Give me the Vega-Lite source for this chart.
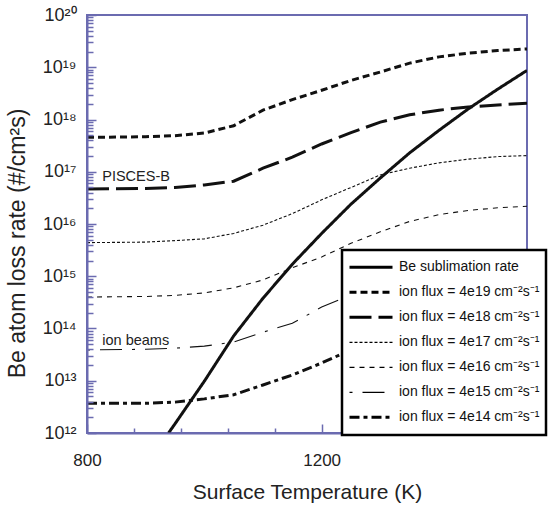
{
  "$schema": "https://vega.github.io/schema/vega-lite/v6.json",
  "width": 440,
  "height": 418,
  "autosize": {"type": "none"},
  "padding": {"left": 87, "top": 15, "right": 24, "bottom": 75},
  "background": "white",
  "config": {
    "view": {"stroke": "#6b6bb0", "strokeWidth": 2},
    "axis": {
      "domainColor": "#6b6bb0",
      "domainWidth": 2,
      "tickColor": "#6b6bb0",
      "tickWidth": 1.5,
      "grid": false,
      "labelFont": "Liberation Sans",
      "titleFont": "Liberation Sans",
      "labelColor": "#222222",
      "titleColor": "#222222",
      "titleFontWeight": "normal"
    },
    "legend": {
      "orient": "none",
      "legendX": 255,
      "legendY": 235,
      "padding": 6,
      "fillColor": "white",
      "strokeColor": "black",
      "strokeWidth": 2.5,
      "labelFont": "Liberation Sans",
      "labelFontSize": 14,
      "labelColor": "#111111",
      "symbolType": "stroke",
      "symbolSize": 1850,
      "symbolStrokeColor": "black",
      "clipHeight": 22.7,
      "rowPadding": 2,
      "labelOffset": 21,
      "symbolOffset": 16,
      "labelLimit": 300,
      "zindex": 2
    }
  },
  "data": {
    "values": [
      {"s": "sub", "T": 939, "v": 1.0e12},
      {"s": "sub", "T": 950, "v": 1.5e12},
      {"s": "sub", "T": 1000, "v": 9.8e12},
      {"s": "sub", "T": 1050, "v": 7.2e13},
      {"s": "sub", "T": 1100, "v": 3.8e14},
      {"s": "sub", "T": 1150, "v": 1.7e15},
      {"s": "sub", "T": 1200, "v": 6.6e15},
      {"s": "sub", "T": 1250, "v": 2.4e16},
      {"s": "sub", "T": 1300, "v": 7.6e16},
      {"s": "sub", "T": 1350, "v": 2.3e17},
      {"s": "sub", "T": 1400, "v": 6.2e17},
      {"s": "sub", "T": 1450, "v": 1.6e18},
      {"s": "sub", "T": 1500, "v": 3.8e18},
      {"s": "sub", "T": 1550, "v": 8.7e18},

      {"s": "4e19", "T": 800, "v": 4.57e17},
      {"s": "4e19", "T": 850, "v": 4.6e17},
      {"s": "4e19", "T": 900, "v": 4.68e17},
      {"s": "4e19", "T": 950, "v": 4.9e17},
      {"s": "4e19", "T": 1000, "v": 5.5e17},
      {"s": "4e19", "T": 1050, "v": 7.6e17},
      {"s": "4e19", "T": 1100, "v": 1.51e18},
      {"s": "4e19", "T": 1150, "v": 2.4e18},
      {"s": "4e19", "T": 1200, "v": 3.63e18},
      {"s": "4e19", "T": 1250, "v": 5.6e18},
      {"s": "4e19", "T": 1300, "v": 8.1e18},
      {"s": "4e19", "T": 1350, "v": 1.2e19},
      {"s": "4e19", "T": 1400, "v": 1.58e19},
      {"s": "4e19", "T": 1450, "v": 1.86e19},
      {"s": "4e19", "T": 1500, "v": 2.09e19},
      {"s": "4e19", "T": 1550, "v": 2.24e19},

      {"s": "4e18", "T": 800, "v": 4.7e16},
      {"s": "4e18", "T": 900, "v": 4.8e16},
      {"s": "4e18", "T": 950, "v": 5.0e16},
      {"s": "4e18", "T": 1000, "v": 5.6e16},
      {"s": "4e18", "T": 1050, "v": 6.6e16},
      {"s": "4e18", "T": 1100, "v": 1.17e17},
      {"s": "4e18", "T": 1150, "v": 1.9e17},
      {"s": "4e18", "T": 1200, "v": 3.4e17},
      {"s": "4e18", "T": 1250, "v": 5.6e17},
      {"s": "4e18", "T": 1300, "v": 8.9e17},
      {"s": "4e18", "T": 1350, "v": 1.23e18},
      {"s": "4e18", "T": 1400, "v": 1.51e18},
      {"s": "4e18", "T": 1450, "v": 1.74e18},
      {"s": "4e18", "T": 1500, "v": 1.9e18},
      {"s": "4e18", "T": 1550, "v": 2.04e18},

      {"s": "4e17", "T": 800, "v": 4.4e15},
      {"s": "4e17", "T": 900, "v": 4.5e15},
      {"s": "4e17", "T": 950, "v": 4.8e15},
      {"s": "4e17", "T": 1000, "v": 5.2e15},
      {"s": "4e17", "T": 1050, "v": 6.6e15},
      {"s": "4e17", "T": 1100, "v": 9.5e15},
      {"s": "4e17", "T": 1150, "v": 1.58e16},
      {"s": "4e17", "T": 1200, "v": 2.9e16},
      {"s": "4e17", "T": 1250, "v": 5.0e16},
      {"s": "4e17", "T": 1300, "v": 8.7e16},
      {"s": "4e17", "T": 1350, "v": 1.17e17},
      {"s": "4e17", "T": 1400, "v": 1.48e17},
      {"s": "4e17", "T": 1450, "v": 1.74e17},
      {"s": "4e17", "T": 1500, "v": 1.95e17},
      {"s": "4e17", "T": 1550, "v": 2.04e17},

      {"s": "4e16", "T": 800, "v": 4.0e14},
      {"s": "4e16", "T": 900, "v": 4.1e14},
      {"s": "4e16", "T": 950, "v": 4.3e14},
      {"s": "4e16", "T": 1000, "v": 4.8e14},
      {"s": "4e16", "T": 1050, "v": 6.0e14},
      {"s": "4e16", "T": 1100, "v": 8.5e14},
      {"s": "4e16", "T": 1150, "v": 1.45e15},
      {"s": "4e16", "T": 1200, "v": 2.34e15},
      {"s": "4e16", "T": 1250, "v": 4.27e15},
      {"s": "4e16", "T": 1300, "v": 7.1e15},
      {"s": "4e16", "T": 1350, "v": 1.12e16},
      {"s": "4e16", "T": 1400, "v": 1.51e16},
      {"s": "4e16", "T": 1450, "v": 1.82e16},
      {"s": "4e16", "T": 1500, "v": 2.04e16},
      {"s": "4e16", "T": 1550, "v": 2.19e16},

      {"s": "4e15", "T": 800, "v": 3.9e13},
      {"s": "4e15", "T": 900, "v": 4.0e13},
      {"s": "4e15", "T": 950, "v": 4.2e13},
      {"s": "4e15", "T": 1000, "v": 4.6e13},
      {"s": "4e15", "T": 1050, "v": 5.5e13},
      {"s": "4e15", "T": 1100, "v": 8.5e13},
      {"s": "4e15", "T": 1150, "v": 1.26e14},
      {"s": "4e15", "T": 1200, "v": 2.57e14},
      {"s": "4e15", "T": 1250, "v": 4.4e14},
      {"s": "4e15", "T": 1300, "v": 7.1e14},
      {"s": "4e15", "T": 1350, "v": 1.12e15},
      {"s": "4e15", "T": 1400, "v": 1.51e15},
      {"s": "4e15", "T": 1450, "v": 1.82e15},
      {"s": "4e15", "T": 1500, "v": 2.04e15},
      {"s": "4e15", "T": 1550, "v": 2.19e15},

      {"s": "4e14", "T": 800, "v": 3.7e12},
      {"s": "4e14", "T": 900, "v": 3.7e12},
      {"s": "4e14", "T": 950, "v": 3.9e12},
      {"s": "4e14", "T": 1000, "v": 4.5e12},
      {"s": "4e14", "T": 1050, "v": 5.4e12},
      {"s": "4e14", "T": 1100, "v": 8.3e12},
      {"s": "4e14", "T": 1150, "v": 1.29e13},
      {"s": "4e14", "T": 1200, "v": 2.19e13},
      {"s": "4e14", "T": 1250, "v": 3.9e13},
      {"s": "4e14", "T": 1300, "v": 7.1e13},
      {"s": "4e14", "T": 1350, "v": 1.12e14},
      {"s": "4e14", "T": 1400, "v": 1.51e14},
      {"s": "4e14", "T": 1450, "v": 1.82e14},
      {"s": "4e14", "T": 1500, "v": 2.04e14},
      {"s": "4e14", "T": 1550, "v": 2.19e14}
    ]
  },
  "layer": [
    {
      "mark": {"type": "line", "color": "#111111", "clip": true, "strokeCap": "butt"},
      "encoding": {
        "x": {
          "field": "T", "type": "quantitative",
          "title": "Surface Temperature (K)",
          "scale": {"domain": [800, 1550], "nice": false, "zero": false},
          "axis": {
            "titleFontSize": 21,
            "labelFontSize": 17,
            "values": [800,820,840,860,880,900,920,940,960,980,1000,1020,1040,1060,1080,1100,1120,1140,1160,1180,1200,1220,1240,1260,1280,1300,1320,1340,1360,1380,1400,1420,1440,1460,1480,1500,1520,1540],
            "labelExpr": "datum.value % 100 == 0 ? datum.label : ''",
            "format": "d",
            "labelOverlap": false,
            "labelFlush": false,
            "domainColor": "#6b6bb0",
            "tickColor": "#6b6bb0",
            "zindex": 1,
            "tickSize": {"condition": {"test": "datum.value % 100 == 0", "value": -9}, "value": -5},
            "labelPadding": 28,
            "titlePadding": 9
          }
        },
        "y": {
          "field": "v", "type": "quantitative",
          "title": "Be atom loss rate (#/cm²s)",
          "scale": {"type": "log", "domain": [1e12, 1e20], "nice": false},
          "axis": {
            "titleFontSize": 23,
            "labelFontSize": 18,
            "titleY": 228,
            "values": [1e12,2e12,3e12,4e12,5e12,6e12,7e12,8e12,9e12,1e13,2e13,3e13,4e13,5e13,6e13,7e13,8e13,9e13,1e14,2e14,3e14,4e14,5e14,6e14,7e14,8e14,9e14,1e15,2e15,3e15,4e15,5e15,6e15,7e15,8e15,9e15,1e16,2e16,3e16,4e16,5e16,6e16,7e16,8e16,9e16,1e17,2e17,3e17,4e17,5e17,6e17,7e17,8e17,9e17,1e18,2e18,3e18,4e18,5e18,6e18,7e18,8e18,9e18,1e19,2e19,3e19,4e19,5e19,6e19,7e19,8e19,9e19,1e20],
            "labelExpr": "abs(log(datum.value)/LN10 - round(log(datum.value)/LN10)) < 0.01 ? '10' + ['¹²','¹³','¹⁴','¹⁵','¹⁶','¹⁷','¹⁸','¹⁹','²⁰'][round(log(datum.value)/LN10) - 12] : ''",
            "labelOverlap": false,
            "labelFlush": false,
            "domainColor": "#6b6bb0",
            "tickColor": "#6b6bb0",
            "zindex": 1,
            "tickSize": {"condition": {"test": "abs(log(datum.value)/LN10 - round(log(datum.value)/LN10)) < 0.01", "value": -9}, "value": -6},
            "labelPadding": 20,
            "titlePadding": 13
          }
        },
        "detail": {"field": "s", "type": "nominal"},
        "strokeDash": {
          "field": "s", "type": "nominal",
          "scale": {
            "domain": ["sub", "4e19", "4e18", "4e17", "4e16", "4e15", "4e14"],
            "range": [[1, 0], [7, 4], [22, 7], [3, 2], [5, 5], [3, 10, 22, 10], [10, 4, 4, 4]]
          },
          "legend": {
            "title": null,
            "labelExpr": "datum.value == 'sub' ? 'Be sublimation rate' : 'ion flux = ' + datum.value + ' cm⁻²s⁻¹'",
            "encode": {
              "symbols": {
                "update": {
                  "strokeWidth": {"signal": "indexof(['4e17','4e16','4e15'], datum.value) >= 0 ? 1.2 : 3"},
                  "stroke": {"value": "black"}
                }
              }
            }
          }
        },
        "strokeWidth": {
          "condition": {"test": "indexof(['4e17','4e16','4e15'], datum.s) >= 0", "value": 1.1},
          "value": 3
        }
      }
    },
    {
      "data": {
        "values": [
          {"T": 826, "v": 8e16, "label": "PISCES-B"},
          {"T": 826, "v": 5.8e13, "label": "ion beams"}
        ]
      },
      "mark": {"type": "text", "align": "left", "baseline": "middle", "fontSize": 14.5, "font": "Liberation Sans", "color": "#222222"},
      "encoding": {
        "x": {"field": "T", "type": "quantitative", "title": "Surface Temperature (K)"},
        "y": {"field": "v", "type": "quantitative", "title": "Be atom loss rate (#/cm²s)"},
        "text": {"field": "label", "type": "nominal"}
      }
    }
  ]
}
